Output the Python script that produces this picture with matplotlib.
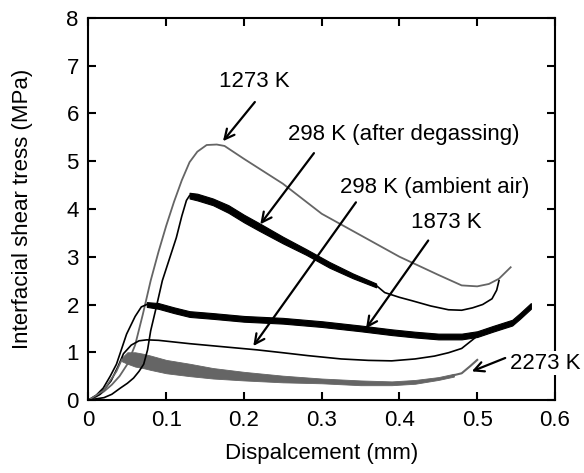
import matplotlib
matplotlib.use("Agg")
import matplotlib.pyplot as plt
import numpy as np

plt.rcParams['font.family'] = ['Liberation Sans', 'DejaVu Sans']

# 1273 K (smooth gray)
x_1273 = [0, 0.01, 0.02, 0.03, 0.04, 0.05, 0.06, 0.07, 0.08, 0.09, 0.10, 0.11, 0.12,
          0.13, 0.14, 0.152, 0.165, 0.175, 0.2, 0.25, 0.3, 0.35, 0.4, 0.45, 0.48,
          0.5, 0.515, 0.528, 0.543]
y_1273 = [0, 0.07, 0.18, 0.32, 0.5, 0.75, 1.15, 1.8, 2.5, 3.1, 3.65, 4.15, 4.6,
          4.98, 5.2, 5.34, 5.35, 5.32, 5.05, 4.53, 3.9, 3.45, 3.0, 2.62, 2.4,
          2.38, 2.43, 2.54, 2.78]

# 298 K after degassing: smooth rise, noisy band, smooth tail
x_deg_rise = [0, 0.02, 0.03, 0.041, 0.05, 0.058, 0.065, 0.071, 0.076, 0.08, 0.087,
              0.095, 0.105, 0.113, 0.12, 0.126, 0.13]
y_deg_rise = [0, 0.05, 0.12, 0.25, 0.35, 0.46, 0.6, 0.75, 1.05, 1.45, 1.93,
              2.5, 3.0, 3.4, 3.85, 4.18, 4.28]
x_deg_band = [0.13, 0.14, 0.16, 0.18, 0.2, 0.22, 0.25, 0.28, 0.31, 0.34, 0.37]
y_deg_band = [4.28, 4.25, 4.15, 4.0, 3.8, 3.62, 3.35, 3.1, 2.83, 2.6, 2.4]
w_deg_band = [0.06, 0.07, 0.07, 0.08, 0.08, 0.08, 0.07, 0.06, 0.06, 0.05, 0.04]
x_deg_tail = [0.37, 0.381, 0.4, 0.416, 0.44, 0.463, 0.48, 0.494, 0.507, 0.519, 0.525, 0.528]
y_deg_tail = [2.4, 2.25, 2.15, 2.08, 1.97, 1.89, 1.88, 1.93, 2.0, 2.12, 2.3, 2.5]

# 1873 K: smooth rise, then noisy band
x_1873_rise = [0, 0.01, 0.019, 0.028, 0.036, 0.049, 0.06, 0.068, 0.075]
y_1873_rise = [0, 0.1, 0.25, 0.5, 0.75, 1.38, 1.75, 1.95, 2.0]
x_1873_band = [0.075, 0.09, 0.11, 0.13, 0.16, 0.2, 0.25, 0.3, 0.35, 0.39, 0.42,
               0.45, 0.48, 0.5, 0.52, 0.545, 0.555, 0.569]
y_1873_band = [2.0, 1.97, 1.88, 1.8, 1.76, 1.7, 1.66, 1.59, 1.5, 1.42, 1.37,
               1.33, 1.33, 1.38, 1.49, 1.62, 1.76, 1.97]
w_1873_band = [0.05, 0.06, 0.06, 0.06, 0.06, 0.06, 0.06, 0.06, 0.06, 0.06, 0.06,
               0.06, 0.06, 0.06, 0.06, 0.06, 0.06, 0.06]

# 298 K ambient air (smooth black)
x_amb = [0, 0.015, 0.029, 0.038, 0.045, 0.055, 0.065, 0.075, 0.09, 0.13, 0.17, 0.217,
         0.25, 0.282, 0.325, 0.36, 0.39, 0.42, 0.445, 0.463, 0.48, 0.497]
y_amb = [0, 0.12, 0.4, 0.7, 0.97, 1.15, 1.24, 1.26, 1.25, 1.18, 1.12, 1.05,
         0.99, 0.93, 0.86, 0.83, 0.82, 0.86, 0.92, 0.99, 1.08, 1.3]

# 2273 K: smooth rise, noisy band, smooth tail
x_2273_rise = [0, 0.019, 0.036, 0.043]
y_2273_rise = [0, 0.19, 0.6, 0.85]
x_2273_band = [0.043, 0.05, 0.06, 0.07, 0.08, 0.1, 0.13, 0.16, 0.2, 0.25, 0.3,
               0.35, 0.39, 0.42, 0.45, 0.47]
y_2273_band = [0.85, 0.88, 0.85, 0.82, 0.78, 0.7, 0.63, 0.56, 0.5, 0.44, 0.4,
               0.36, 0.35, 0.38, 0.45, 0.52]
w_2273_band = [0.04, 0.12, 0.15, 0.15, 0.15, 0.14, 0.13, 0.11, 0.09, 0.07, 0.05,
               0.05, 0.04, 0.04, 0.03, 0.03]
x_2273_tail = [0.47, 0.48, 0.491, 0.5]
y_2273_tail = [0.52, 0.56, 0.71, 0.84]

# annotations: label, text position, arrow tail, arrow tip
labels = ["1273 K", "298 K (after degassing)", "298 K (ambient air)", "1873 K", "2273 K"]
text_xy = [(0.213, 6.68), (0.405, 5.55), (0.445, 4.45), (0.46, 3.72), (0.588, 0.77)]
tail_xy = [(0.214, 6.24), (0.29, 5.17), (0.344, 4.14), (0.437, 3.34), (0.536, 0.88)]
tip_xy = [(0.173, 5.42), (0.221, 3.68), (0.212, 1.13), (0.357, 1.5), (0.493, 0.6)]

GRAY = '#656565'

fig = plt.figure(figsize=(5.84, 4.73), dpi=100)
ax = fig.add_axes([0.1515, 0.1543, 0.7988, 0.8077])

ax.plot(x_1273, y_1273, color=GRAY, lw=1.3)

ax.plot(x_deg_rise, y_deg_rise, color='black', lw=1.2)
yb = np.array(y_deg_band)
wb = np.array(w_deg_band)
ax.fill_between(x_deg_band, yb - wb, yb + wb, color='black', lw=0.8)
ax.plot(x_deg_tail, y_deg_tail, color='black', lw=1.2)

ax.plot(x_1873_rise, y_1873_rise, color='black', lw=1.2)
yb = np.array(y_1873_band)
wb = np.array(w_1873_band)
ax.fill_between(x_1873_band, yb - wb, yb + wb, color='black', lw=0.8)

ax.plot(x_amb, y_amb, color='black', lw=1.2)

ax.plot(x_2273_rise, y_2273_rise, color=GRAY, lw=1.2)
yb = np.array(y_2273_band)
wb = np.array(w_2273_band)
ax.fill_between(x_2273_band, yb - wb, yb + wb, color=GRAY, lw=0.6)
ax.plot(x_2273_tail, y_2273_tail, color=GRAY, lw=1.5)

for lab, txy, a0, a1 in zip(labels, text_xy, tail_xy, tip_xy):
    ax.annotate('', xy=a1, xytext=a0,
                arrowprops=dict(arrowstyle='->,head_length=0.7,head_width=0.35',
                                color='black', lw=1.6, shrinkA=0, shrinkB=0))
    bbox = None
    if lab == "2273 K":
        bbox = dict(facecolor='white', edgecolor='none', pad=1)
    ax.text(txy[0], txy[1], lab, fontsize=16, ha='center', va='center',
            bbox=bbox, clip_on=False, zorder=5)

ax.set_xlim(0, 0.6)
ax.set_ylim(0, 8)
ax.set_xticks([0, 0.1, 0.2, 0.3, 0.4, 0.5, 0.6])
ax.set_xticklabels(['0', '0.1', '0.2', '0.3', '0.4', '0.5', '0.6'])
ax.set_yticks(range(9))
ax.tick_params(direction='in', length=6, width=1.5, labelsize=16,
               top=True, right=True, pad=7)
for sp in ax.spines.values():
    sp.set_linewidth(1.5)
ax.set_xlabel('Dispalcement (mm)', fontsize=16, labelpad=9)
ax.set_ylabel('Interfacial shear tress (MPa)', fontsize=16, labelpad=24)

fig.savefig('out.png', dpi=100)
